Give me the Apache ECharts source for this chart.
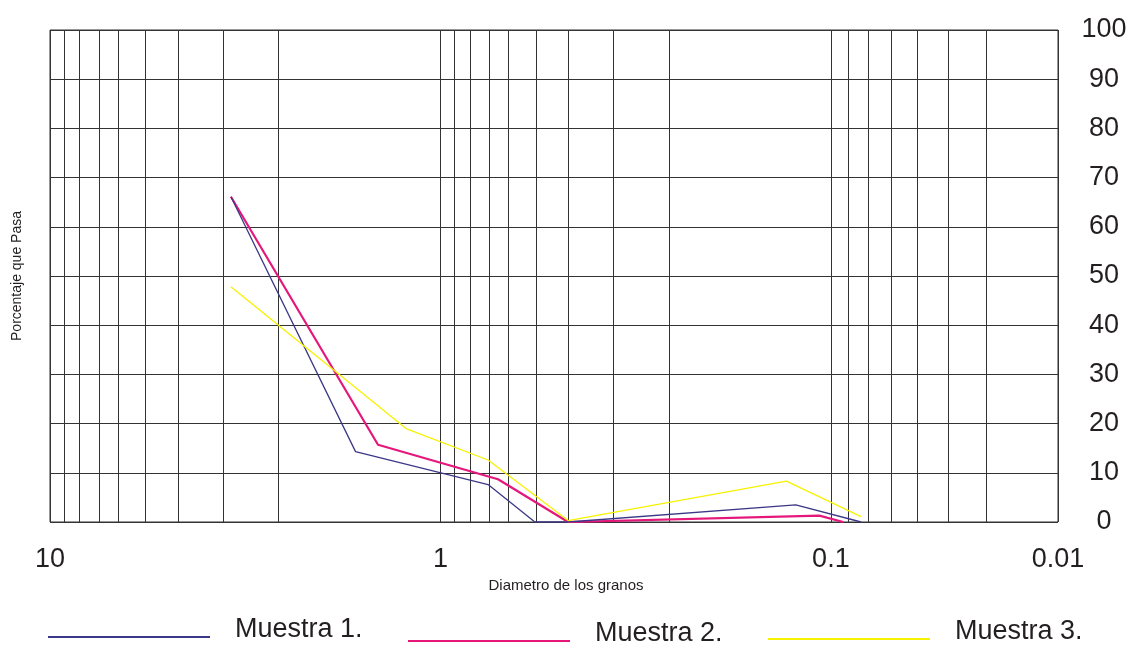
<!DOCTYPE html>
<html>
<head>
<meta charset="utf-8">
<script src="https://cdn.jsdelivr.net/npm/echarts@6/dist/echarts.min.js"></script>
<style>
  html, body { margin: 0; padding: 0; background: #fff; }
  #chart { width: 1139px; height: 645px; }
</style>
</head>
<body>
<div id="chart"></div>
<script>
// diametro (mm) / porcentaje que pasa
const sizes1 = [3.44, 1.65, 0.755, 0.573, 0.471, 0.123, 0.0837]
const pass1 = [66.1, 14.3, 7.6, 0, 0, 3.5, 0]

const sizes2 = [3.44, 1.445, 0.712, 0.471, 0.107, 0.093]
const pass2 = [66.1, 15.7, 8.7, 0, 1.3, 0]

const sizes3 = [3.44, 1.225, 0.755, 0.471, 0.13, 0.0837]
const pass3 = [47.8, 19.0, 12.6, 0.3, 8.3, 1.1]

const seriesNames = ['Muestra 1.', 'Muestra 2.', 'Muestra 3.']

// eje x (log, invertido)
const xMax = 10
const xMin = 0.0262
const xEndLabel = '0.01'
const minorSteps = [9.2, 8.4, 7.5, 6.7, 5.7, 4.7, 3.6, 2.6]
const decades = [1, 0.1, 0.01]

// eje y
const yMin = 0
const yMax = 100
const yStep = 10

const pairs = (xs, ys) => xs.map((x, i) => [x, ys[i]])

const minorLines = []
decades.forEach(d => {
  minorSteps.forEach(m => {
    const v = m * d
    if (v > xMin && v < xMax) minorLines.push({ xAxis: v })
  })
})

const textColor = '#231f20'
const gridColor = '#333'

// linea de leyenda abajo del centro del texto (punto minimo arriba para fijar la caja)
const legendIcon = 'path://M0,0h0.01v0.01h-0.01z M0,15h162v2h-162z'

const legendBase = {
  top: 616,
  icon: legendIcon,
  itemWidth: 162,
  itemHeight: 17,
  padding: 0,
  selectedMode: false,
  textStyle: {
    color: textColor,
    fontSize: 27,
    fontFamily: 'Liberation Sans',
    padding: [0, 0, 0, 20]
  }
}

const chartOptions = {
  animation: false,
  legend: [
    { ...legendBase, left: 48, data: [seriesNames[0]] },
    { ...legendBase, left: 408, top: 620, data: [seriesNames[1]] },
    { ...legendBase, left: 768, top: 618, data: [seriesNames[2]] }
  ],
  grid: {
    left: 50,
    right: 81,
    top: 30,
    bottom: 123,
    outerBoundsMode: 'none',
    containLabel: false,
    show: true,
    borderColor: gridColor,
    borderWidth: 1
  },
  xAxis: {
    type: 'log',
    logBase: 10,
    inverse: true,
    min: xMin,
    max: xMax,
    name: 'Diametro de los granos',
    nameLocation: 'middle',
    nameGap: 56,
    nameTextStyle: { color: textColor, fontSize: 15, fontFamily: 'Liberation Sans', padding: [0, 0, 0, 24] },
    axisLine: { show: false },
    axisTick: { show: false },
    splitLine: { show: true, lineStyle: { color: gridColor, width: 1 } },
    axisLabel: {
      color: textColor,
      fontSize: 27,
      fontFamily: 'Liberation Sans',
      margin: 24,
      formatter: v => (v < 0.05 ? xEndLabel : String(+v.toPrecision(3)))
    }
  },
  yAxis: [
    {
      type: 'value',
      position: 'right',
      min: yMin,
      max: yMax,
      interval: yStep,
      axisLine: { show: false },
      axisTick: { show: false },
      splitLine: { show: true, lineStyle: { color: gridColor, width: 1 } },
      axisLabel: {
        color: textColor,
        fontSize: 27,
        fontFamily: 'Liberation Sans',
        align: 'center',
        margin: 46
      }
    },
    {
      type: 'value',
      position: 'left',
      min: yMin,
      max: yMax,
      name: 'Porcentaje que Pasa',
      nameLocation: 'middle',
      nameGap: 26,
      nameTextStyle: { color: textColor, fontSize: 14, fontFamily: 'Liberation Sans' },
      axisLine: { show: false },
      axisTick: { show: false },
      axisLabel: { show: false },
      splitLine: { show: false }
    }
  ],
  series: [
    {
      name: 'grid',
      type: 'line',
      data: [],
      silent: true,
      markLine: {
        silent: true,
        z: 1,
        symbol: 'none',
        label: { show: false },
        lineStyle: { color: gridColor, width: 1, type: 'solid' },
        data: minorLines
      }
    },
    {
      name: seriesNames[0],
      type: 'line',
      data: pairs(sizes1, pass1),
      symbol: 'none',
      z: 4,
      itemStyle: { color: '#3b3887' },
      lineStyle: { color: '#3b3887', width: 1.3 }
    },
    {
      name: seriesNames[1],
      type: 'line',
      data: pairs(sizes2, pass2),
      symbol: 'none',
      z: 3,
      itemStyle: { color: '#e5177b' },
      lineStyle: { color: '#e5177b', width: 2.2 }
    },
    {
      name: seriesNames[2],
      type: 'line',
      data: pairs(sizes3, pass3),
      symbol: 'none',
      z: 5,
      itemStyle: { color: '#f6f200' },
      lineStyle: { color: '#f6f200', width: 1.3 }
    }
  ]
}

const chartInstance = echarts.init(document.getElementById('chart'))
chartInstance.setOption(chartOptions)
window.addEventListener('resize', () => chartInstance.resize())
</script>
</body>
</html>
